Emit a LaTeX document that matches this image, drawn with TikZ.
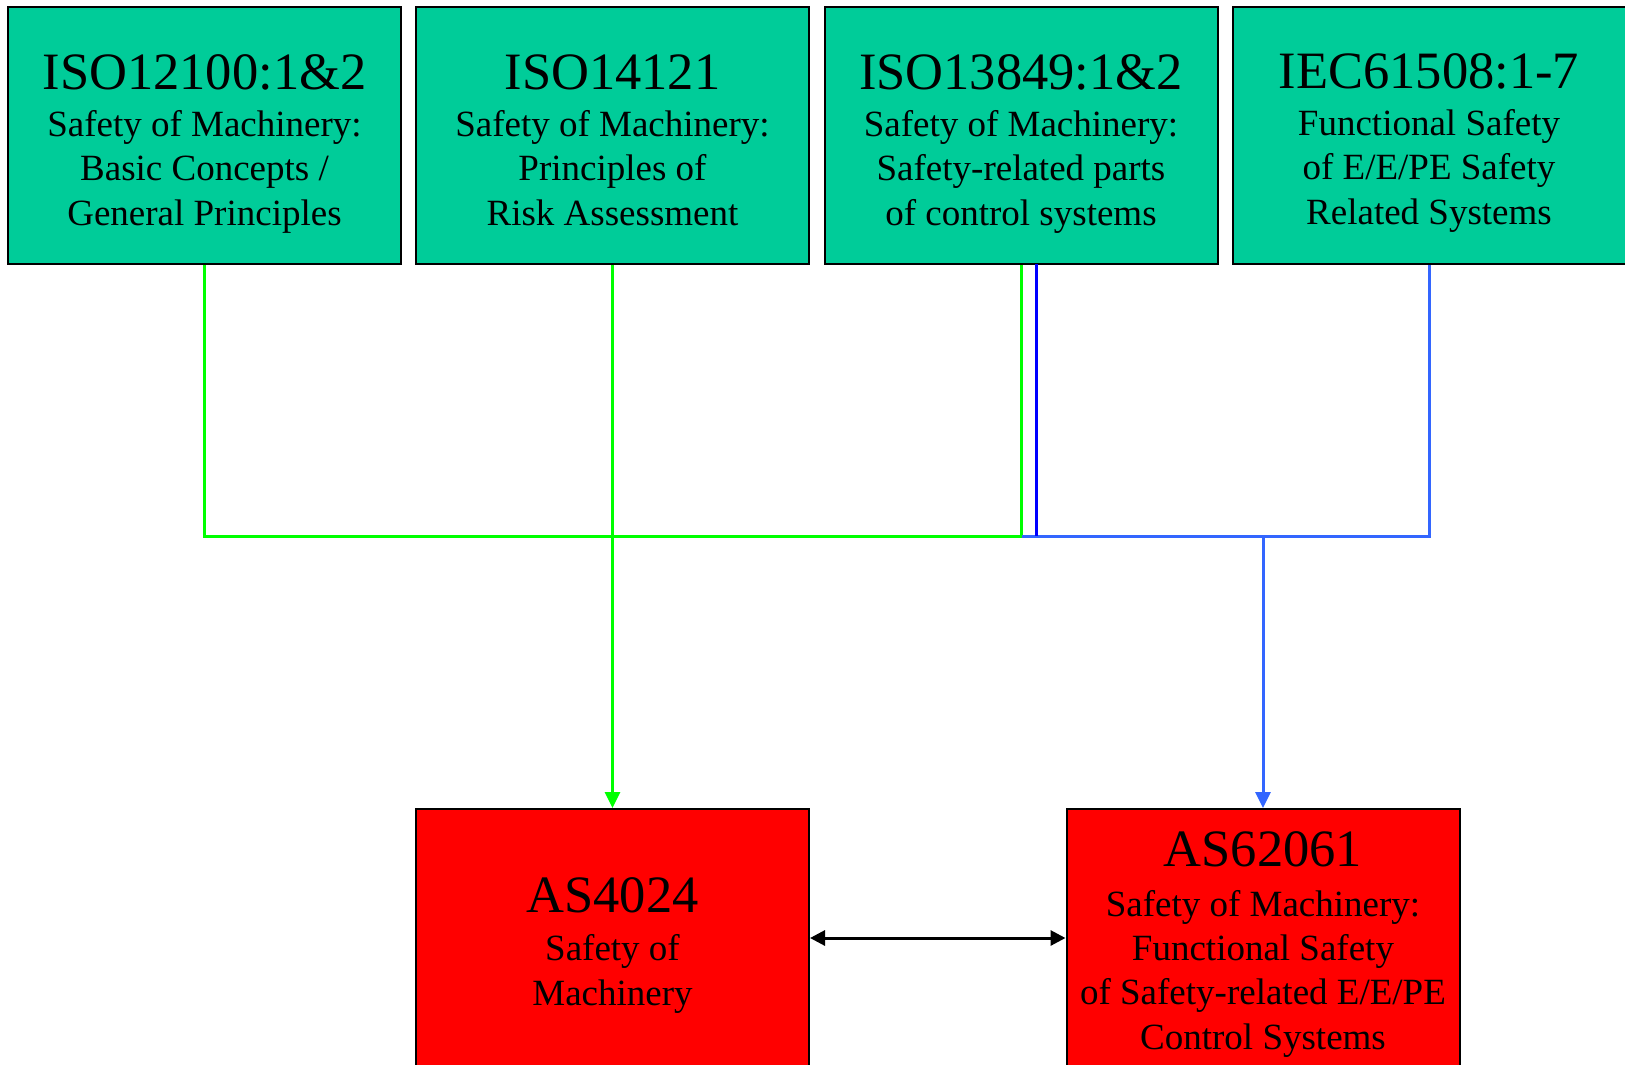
\documentclass[tikz,border=0pt]{standalone}
\usepackage{fontspec}
\setmainfont{Liberation Serif}
\usetikzlibrary{arrows.meta}
\definecolor{topfill}{RGB}{0,204,153}
\definecolor{redfill}{RGB}{255,0,0}
\definecolor{lgreen}{RGB}{0,255,0}
\definecolor{dblue}{RGB}{0,0,255}
\definecolor{lblue}{RGB}{51,102,255}
\tikzset{
  stdbox/.style={draw=black, line width=2pt, minimum width=393pt, minimum height=257pt, inner sep=0pt},
  topbox/.style={stdbox, fill=topfill},
  redbox/.style={stdbox, fill=redfill},
  titletxt/.style={anchor=base, inner sep=0pt, font=\fontsize{52.5}{60}\selectfont},
  bodytxt/.style={anchor=base, inner sep=0pt, align=center, font=\fontsize{37}{44.2}\selectfont},
  greenline/.style={draw=lgreen, line width=3pt},
  dblueline/.style={draw=dblue, line width=3pt},
  lblueline/.style={draw=lblue, line width=3pt},
  tip/.style={-{Triangle[length=16pt,width=15pt]}},
  dtip/.style={{Triangle[length=15pt,width=15pt]}-{Triangle[length=15pt,width=15pt]}}
}
\begin{document}
\begin{tikzpicture}[x=1pt,y=-1pt]
\useasboundingbox (0,0) rectangle (1625,1065);
\clip (0,0) rectangle (1625,1065);
\fill[white] (0,0) rectangle (1625,1065);
% top boxes
\node[topbox] (iso12100) at (204.5,135.5) {};
\node[topbox] (iso14121) at (612.5,135.5) {};
\node[topbox] (iso13849) at (1021,135.5) {};
\node[topbox] (iec61508) at (1429,135.5) {};
\node[titletxt] (iso12100t) at (204.5,89) {ISO12100:1\&2};
\node[bodytxt] (iso12100b) at (204.5,225) {Safety of Machinery:\\Basic Concepts /\\General Principles};
\node[titletxt] (iso14121t) at (612.5,89) {ISO14121};
\node[bodytxt] (iso14121b) at (612.5,225) {Safety of Machinery:\\Principles of\\Risk Assessment};
\node[titletxt] (iso13849t) at (1021,89) {ISO13849:1\&2};
\node[bodytxt] (iso13849b) at (1021,225) {Safety of Machinery:\\Safety-related parts\\of control systems};
\node[titletxt] (iec61508t) at (1429,88.5) {IEC61508:1-7};
\node[bodytxt] (iec61508b) at (1429,224) {Functional Safety\\of E/E/PE Safety\\Related Systems};
% bottom boxes
\node[redbox] (as4024) at (612.5,937.5) {};
\node[redbox] (as62061) at (1263,937.5) {};
\node[titletxt] (as4024t) at (612.5,912.3) {AS4024};
\node[bodytxt] (as4024b) at (612.5,1005) {Safety of\\Machinery};
\node[titletxt] (as62061t) at (1263,866.7) {AS62061};
\node[bodytxt] (as62061b) at (1263,1049) {Safety of Machinery:\\Functional Safety\\of Safety-related E/E/PE\\Control Systems};
% bus coordinates
\coordinate (busG) at (1021,536);
\coordinate (busB) at (1022,536);
\coordinate (dbTop) at (1036.5,264);
\coordinate (dbBot) at (1036.5,536);
\coordinate (tapB) at (1263,536);
% connectors
\draw[greenline] (iso12100.south) |- (busG) -- (iso13849.south);
\draw[greenline, tip] (iso14121.south) -- (as4024.north);
\draw[lblueline] (busB) -| (iec61508.south);
\draw[dblueline] (dbTop) -- (dbBot);
\draw[lblueline, tip] (tapB) -- (as62061.north);
\draw[black, line width=3pt, dtip] (as4024.east |- 0,938) -- (as62061.west |- 0,938);
\end{tikzpicture}
\end{document}
